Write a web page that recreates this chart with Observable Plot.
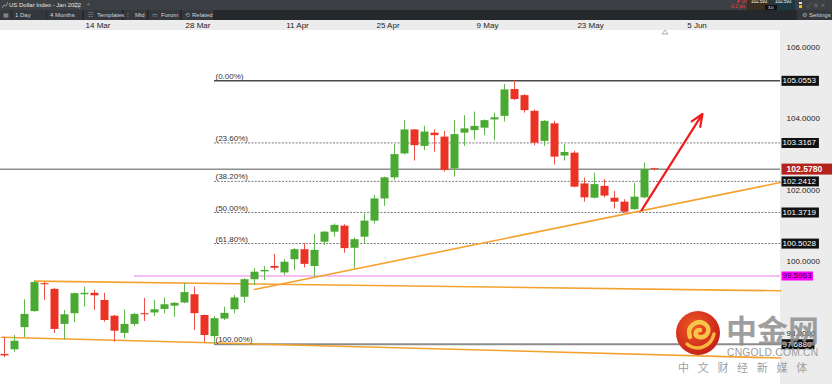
<!DOCTYPE html>
<html><head><meta charset="utf-8">
<script src="https://cdn.jsdelivr.net/npm/d3@7"></script>
<script src="https://cdn.jsdelivr.net/npm/@observablehq/plot@0.6"></script>
<style>
body{margin:0;width:832px;height:384px;overflow:hidden;font-family:"Liberation Sans",Arial,sans-serif;background:#fff;}
#wrap{position:relative;width:832px;height:384px;}
.row1{position:absolute;left:0;top:0;width:832px;height:10px;background:#3c3f43;}
.row2{position:absolute;left:0;top:10px;width:832px;height:10px;background:#26292c;}
.btn{position:absolute;top:0;height:10px;background:#34373b;}
.t{position:absolute;color:#d6d6d6;font-size:6px;line-height:10px;white-space:nowrap;}
#chart{position:absolute;left:0;top:20px;width:832px;height:364px;background:#fff;}
.stripTop{position:absolute;left:0;top:0;width:832px;height:10px;background:#ececec;}
.stripRight{position:absolute;left:780px;top:10px;width:52px;height:354px;background:#ececec;}
#chart svg{position:absolute;left:0;top:0;}
#wm{position:absolute;left:0;top:0;pointer-events:none;}
</style></head>
<body>
<div id="wrap">
  <div class="row1">
    <svg style="position:absolute;left:2px;top:2px" width="6" height="6"><polyline points="0,6 2,3 4,4 6,0" fill="none" stroke="#aaa" stroke-width="0.8"/></svg>
    <div class="t" style="left:9px;color:#e4e4e4">US Dollar Index - Jan 2022</div>
    <svg style="position:absolute;left:73px;top:2px" width="7" height="7"><circle cx="3" cy="3" r="2.2" fill="none" stroke="#999" stroke-width="0.8"/><line x1="4.6" y1="4.6" x2="6.6" y2="6.6" stroke="#999" stroke-width="0.9"/></svg>
    <div class="t" style="left:86px;color:#777;font-size:8px">+</div>
    <div class="t" style="left:736px;top:-3px;color:#ff3b30;font-size:4.5px">▼ 0%</div>
    <div class="t" style="left:730px;top:2px;color:#ff3b30;font-size:4.5px">-0.2 pts</div>
    <div style="position:absolute;left:747px;top:0;width:23px;height:10px;background:#3b2f20"></div>
    <div style="position:absolute;left:770px;top:0;width:25px;height:10px;background:#1f3944"></div>
    <div class="t" style="left:751px;top:-3px;color:#fff;font-size:4.5px">102.593</div>
    <div class="t" style="left:775px;top:-3px;color:#fff;font-size:4.5px">102.593</div>
    <div style="position:absolute;left:765px;top:5px;width:12px;height:5px;background:#111"></div>
    <div class="t" style="left:768px;top:2.5px;color:#fff;font-size:4px">3.0</div>
    <div style="position:absolute;left:799px;top:2px;width:3px;height:2px;background:#ddd"></div>
    <div style="position:absolute;left:799px;top:5px;width:3px;height:3px;background:#e0c020"></div>
    <div class="t" style="left:807px;color:#888;font-size:5px">⤢ &nbsp;⧉ &nbsp;✕</div>
  </div>
  <div class="row2">
    <div class="btn" style="left:0;width:11px"></div>
    <div class="btn" style="left:12px;width:34px"></div>
    <div class="btn" style="left:47px;width:35px"></div>
    <div class="btn" style="left:84px;width:38px"></div>
    <div class="btn" style="left:124px;width:23px"></div>
    <div class="btn" style="left:149px;width:31px"></div>
    <div class="btn" style="left:182px;width:31px"></div>
    <div class="btn" style="left:797px;width:35px"></div>
    <div class="t" style="left:3px;color:#999">▦</div>
    <div class="t" style="left:15px">1 Day</div>
    <div class="t" style="left:50px">4 Months</div>
    <div class="t" style="left:88px;color:#aaa">☷</div>
    <div class="t" style="left:97px">Templates</div>
    <div class="t" style="left:127px;color:#aaa">⫶</div>
    <div class="t" style="left:135px">Mid</div>
    <div class="t" style="left:152px;color:#aaa">▭</div>
    <div class="t" style="left:161px">Forum</div>
    <div class="t" style="left:185px;color:#aaa">⟲</div>
    <div class="t" style="left:192px">Related</div>
    <div class="t" style="left:802px;color:#aaa">⚙</div>
    <div class="t" style="left:809px">Settings</div>
  </div>
  <div id="chart">
    <div class="stripTop"></div>
    <div class="stripRight"></div>
  </div>
  <svg id="wm" width="832" height="384">
    <defs>
      <radialGradient id="lg" cx="40%" cy="35%" r="70%">
        <stop offset="0%" stop-color="#ef5a25"/>
        <stop offset="100%" stop-color="#c41d18"/>
      </radialGradient>
    </defs>
    <path d="M662,34 L665,30 L668,34 Z" fill="none" stroke="#999" stroke-width="0.8"/>
    <circle cx="698" cy="333" r="22" fill="url(#lg)"/>
    <path d="M690,337 C686,326 697,319 705,324 C712,329 707,339 699,337 C694,336 695,330 700,330" fill="none" stroke="#f8c54a" stroke-width="4.5" stroke-linecap="round"/>
    <path d="M687,344 C697,352 711,347 714,334" fill="none" stroke="#f6b73c" stroke-width="3.5" stroke-linecap="round"/>
    <text x="726" y="342" font-family="Noto Sans CJK SC" font-weight="bold" font-size="31" fill="#8e8e8e" fill-opacity="0.85">中金网</text>
    <text x="727" y="356" font-family="Liberation Sans, Arial" font-size="10.3" fill="#9c9c9c" letter-spacing="0.2">CNGOLD.COM.CN</text>
    <text x="678" y="372" font-family="Noto Sans CJK SC" font-size="11" fill="#a0a0a0" letter-spacing="8.7">中文财经新媒体</text>
  </svg>
</div>
<script>
// ---- data (daily OHLC) ----
const open  = [97.40,97.53,98.15,98.60,99.38,99.22,98.24,98.54,99.07,99.11,98.91,98.47,97.99,98.24,98.54,98.56,98.66,98.75,98.84,99.07,98.49,97.90,98.39,98.65,99.00,99.49,99.71,99.86,99.68,100.05,100.33,99.86,100.54,100.82,100.99,100.37,100.68,101.13,101.75,102.34,103.01,103.68,103.22,103.59,103.48,102.59,103.59,103.66,103.73,103.96,104.06,104.81,104.64,104.20,103.36,103.85,102.95,103.03,102.17,101.77,102.10,101.77,101.66,101.45,101.78,102.60];
const high  = [97.87,97.93,98.93,99.45,99.41,99.25,98.63,99.12,99.28,99.19,99.11,98.49,98.65,98.55,98.97,98.91,98.98,98.85,99.39,99.28,98.50,98.46,98.72,99.05,99.52,99.80,99.86,100.20,100.05,100.36,100.50,100.76,100.84,101.05,101.03,100.66,101.33,101.85,102.36,103.27,103.94,103.69,103.78,103.68,103.64,103.94,104.08,104.18,103.96,104.15,104.95,105.0553,104.67,104.24,103.94,103.92,103.27,103.08,102.33,102.47,102.29,101.96,101.73,102.19,102.75,102.61];
const low   = [97.31,97.46,97.87,98.58,98.91,97.99,97.81,98.29,98.72,98.63,98.30,97.74,97.84,98.18,98.32,98.46,98.54,98.44,98.82,98.07,97.74,97.688,98.35,98.54,98.83,99.33,99.47,99.75,99.61,99.75,99.82,99.56,100.45,100.68,100.23,99.80,100.50,101.05,101.54,102.27,102.98,102.81,103.10,103.06,102.50,102.36,103.22,103.40,103.52,103.38,103.90,104.50,104.15,103.24,103.22,102.70,102.81,102.06,101.66,101.75,101.78,101.47,101.35,101.43,101.75,102.53];
const close = [97.36,97.77,98.52,99.41,99.35,98.10,98.51,99.10,99.11,99.04,98.35,98.05,98.24,98.52,98.51,98.65,98.79,98.83,99.13,98.54,97.93,98.40,98.55,98.98,99.49,99.70,99.75,99.81,99.98,100.33,99.92,100.31,100.82,101.01,100.36,100.61,101.13,101.75,102.34,102.99,103.68,103.24,103.62,103.52,102.55,103.55,103.71,103.78,103.94,104.02,104.80,104.53,104.22,103.31,103.92,102.92,103.05,102.08,101.78,102.15,101.83,101.66,101.38,101.80,102.57,102.578];

// date axis (position in trading-day index) and price axis
const dateTickPos    = [9.35, 19.35, 29.3, 38.35, 48.3, 58.6, 69.25];
const dateTickLabels = ["14 Mar","28 Mar","11 Apr","25 Apr","9 May","23 May","5 Jun"];
const priceTicks     = [98, 100, 102, 104, 106];

// Fibonacci retracement
const fibPercent = ["0.00%","23.60%","38.20%","50.00%","61.80%","100.00%"];
const fibLevel   = [105.0553, 103.3167, 102.2412, 101.3719, 100.5028, 97.6880];
const fibStartDay = 21;

// other levels
const lastPrice = 102.578;
const magentaLevel = 99.5963;
const magentaStartDay = 13;

// trend lines: [day index, price]
const upperChannel = [[3, 99.45], [77.6, 99.18]];
const lowerChannel = [[-0.3, 97.88], [77.6, 97.30]];
const risingLine   = [[25, 99.217], [77.6, 102.21]];
const arrowPath    = [[63.7, 101.43], [69.8, 104.13]];

// ---- build ----
const GREEN = "#4aa932", RED = "#ea3325";
const GREEN_W = "#62b84c", RED_W = "#ee5247";
const candles = open.map((o, i) => ({i, open: o, high: high[i], low: low[i], close: close[i]}));
const isUp = d => d.close >= d.open;
const fibs = fibPercent.map((p, k) => ({pct: p, value: fibLevel[k]}));
const tickMap = new Map(dateTickPos.map((p, k) => [p, dateTickLabels[k]]));
const xDomain = [-0.4, 77.6];
const trends = [
  ...upperChannel.map(([i, v]) => ({line: "upper", i, v})),
  ...lowerChannel.map(([i, v]) => ({line: "lower", i, v})),
  ...risingLine.map(([i, v]) => ({line: "rise", i, v}))
];
const blackTags = fibLevel.map(v => ({v}));
const fmt = v => v.toFixed(4);

const svg = Plot.plot({
  width: 832, height: 364,
  marginLeft: 0, marginRight: 52, marginTop: 10, marginBottom: 0,
  style: {background: "transparent", fontFamily: "Liberation Sans, Arial, sans-serif", fontSize: "8px", overflow: "visible"},
  x: {domain: xDomain, axis: null, label: null},
  y: {domain: [96.5594, 106.4615], axis: null, label: null},
  color: {type: "identity"},
  marks: [
    Plot.axisX({anchor: "top", ticks: dateTickPos, tickFormat: d => tickMap.get(d), tickSize: 0, tickPadding: 3, fill: "#222", fontSize: 8, label: null}),
    Plot.axisY({anchor: "right", ticks: priceTicks, tickFormat: fmt, tickSize: 0, tickPadding: 6, fill: "#222", fontSize: 8, label: null}),
    Plot.ruleY([lastPrice], {stroke: "#8e8e8e", strokeWidth: 1.5}),
    Plot.ruleY(fibs.slice(1, 5), {y: "value", x1: fibStartDay, x2: xDomain[1], stroke: "#7a7a7a", strokeWidth: 1, strokeDasharray: "2,1.4"}),
    Plot.ruleY(fibs.slice(0, 1), {y: "value", x1: fibStartDay, x2: xDomain[1], stroke: "#4a4a4a", strokeWidth: 1.5}),
    Plot.ruleY(fibs.slice(5), {y: "value", x1: fibStartDay, x2: xDomain[1], stroke: "#8c8c8c", strokeWidth: 2}),
    Plot.ruleY([magentaLevel], {x1: magentaStartDay, x2: xDomain[1], stroke: "#f2a6f2", strokeWidth: 1.6}),
    Plot.line(trends, {x: "i", y: "v", z: "line", stroke: "#f4a12e", strokeWidth: 1.6}),
    Plot.text(fibs, {x: fibStartDay, y: "value", text: d => `(${d.pct})`, textAnchor: "start", dx: 1, dy: -4.5, fill: "#333", fontSize: 8}),
    Plot.ruleX(candles, {x: "i", y1: "low", y2: "high", stroke: d => isUp(d) ? GREEN_W : RED_W, strokeWidth: 1}),
    Plot.ruleX(candles, {x: "i", y1: "open", y2: "close", stroke: d => isUp(d) ? GREEN : RED, strokeWidth: 8}),
    Plot.arrow([arrowPath], {x1: d => d[0][0], y1: d => d[0][1], x2: d => d[1][0], y2: d => d[1][1], stroke: "#f01c1c", strokeWidth: 2.2, headLength: 9, headAngle: 45}),
    Plot.text(blackTags, {y: "v", text: d => fmt(d.v), frameAnchor: "right", textAnchor: "start", dx: 2, fill: "#fff", fontSize: 8}),
    Plot.text([magentaLevel], {y: d => d, text: d => fmt(d), frameAnchor: "right", textAnchor: "start", dx: 2, fill: "#3a003a", fontSize: 8}),
    Plot.text([lastPrice], {y: d => d, text: d => fmt(d), frameAnchor: "right", textAnchor: "start", dx: 6, fill: "#fff", fontSize: 8.6, fontWeight: "bold"})
  ]
});
document.getElementById("chart").appendChild(svg);

// draw a coloured box behind each price tag text
const tagStyle = new Map();
fibLevel.forEach(v => tagStyle.set(fmt(v), {fill: "#111", padL: 1, padR: 2.5, h: 10}));
tagStyle.set(fmt(magentaLevel), {fill: "#ff00ff", padL: 1, padR: 1, h: 9});
tagStyle.set(fmt(lastPrice), {fill: "#b3221b", padL: 5, padR: 10, h: 11});
const axisTexts = new Set(priceTicks.map(fmt));
d3.select(svg).selectAll("text").each(function () {
  const s = this.textContent;
  if (!tagStyle.has(s) || axisTexts.has(s)) return;
  const st = tagStyle.get(s);
  const b = this.getBBox();
  const r = document.createElementNS("http://www.w3.org/2000/svg", "rect");
  const cy = b.y + b.height / 2;
  r.setAttribute("x", b.x - st.padL);
  r.setAttribute("width", b.width + st.padL + st.padR);
  r.setAttribute("y", cy - st.h / 2);
  r.setAttribute("height", st.h);
  r.setAttribute("fill", st.fill);
  const t = this.getAttribute("transform");
  if (t) r.setAttribute("transform", t);
  this.parentNode.insertBefore(r, this);
});
</script>
</body></html>
